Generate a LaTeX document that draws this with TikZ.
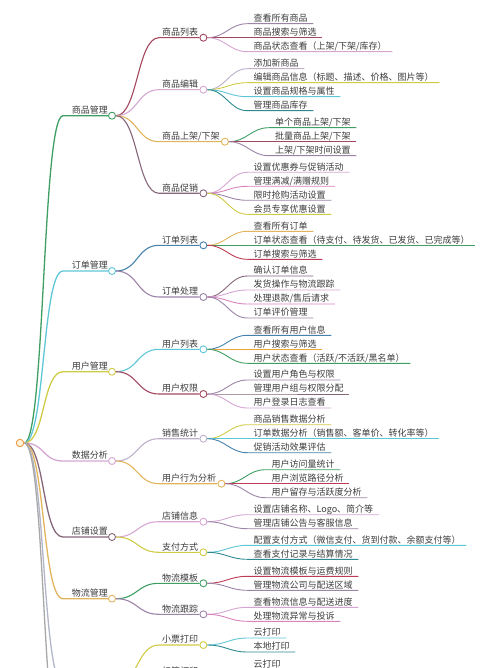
\documentclass[tikz,border=0pt]{standalone}
\usepackage{fontspec}
\setmainfont{Noto Sans CJK SC}
\usepackage{xcolor}
\definecolor{mmText}{HTML}{3C3C3C}
\definecolor{mmRootEdge}{HTML}{E89A48}
\definecolor{mmRootFill}{HTML}{FFF2D6}
\definecolor{mmGreen}{HTML}{3F9E63}
\definecolor{mmCyan}{HTML}{5EC6D7}
\definecolor{mmOlive}{HTML}{CFCB45}
\definecolor{mmLilac}{HTML}{D5A6D3}
\definecolor{mmMauve}{HTML}{86677A}
\definecolor{mmGold}{HTML}{E3B45E}
\definecolor{mmMaroon}{HTML}{A3475F}
\definecolor{mmPurple}{HTML}{9C84A8}
\definecolor{mmTeal}{HTML}{2E8A90}
\definecolor{mmSteel}{HTML}{4582AC}
\definecolor{mmOrange}{HTML}{EFA43A}
\definecolor{mmPink}{HTML}{D784BC}
\definecolor{mmRed}{HTML}{BE3A52}
\definecolor{mmHaze}{HTML}{BDB0C9}
\definecolor{mmGray}{HTML}{B3B6C8}
\definecolor{mmGrayB}{HTML}{A8A8A8}
\usepackage{tikz}
\usetikzlibrary{calc}

% level 1: name, y, colour, label
\newcommand{\mmmain}[4]{%
  \node[maintext] (#1l) at (108,#2-2.4) {#4};
  \node[mmdot=#3] (#1) at (112,#2) {};
  \coordinate (#1s) at (63,#2);
  \draw[mainline=#3] (root.east) .. controls +(21,0) and +(-21,0) .. (#1s) -- (#1.west);
}
% level 2: parent, name, y, colour, label
\newcommand{\mmbranch}[5]{%
  \node[branchtext] (#2l) at (162,#3-2.2) {#5};
  \node[mmdot=#4] (#2) at ($(#2l.base east)+(5,2.2)$) {};
  \coordinate (#2s) at (159,#3);
  \draw[branchline=#4] (#1.east) .. controls +(22,0) and +(-22,0) .. (#2s) -- (#2.west);
}
% level 3: parent, name, offset, colour, text
\newcommand{\mmleaf}[5]{%
  \node[leaftext] (#2) at ($(#1)+(50,#3-2.2)$) {#5};
  \coordinate (#2s) at ($(#1)+(44,#3)$);
  \draw[leafline=#4] (#1.east) .. controls +(18,0) and +(-18,0) .. (#2s)
    -- ($(#2.base east |- #2s)+(5.5,0)$);
}

\begin{document}
\begin{tikzpicture}[x=1pt, y=-1pt,
  mmdot/.style={circle, draw=#1, fill=white, line width=0.9pt, inner sep=0pt, minimum size=7pt},
  rootdot/.style={circle, draw=mmRootEdge, fill=mmRootFill, line width=0.9pt, inner sep=0pt, minimum size=7.5pt},
  mainline/.style={draw=#1, line width=1.3pt},
  branchline/.style={draw=#1, line width=1.1pt},
  leafline/.style={draw=#1, line width=0.9pt},
  maintext/.style={anchor=base east, inner sep=0pt, text=mmText, font=\fontsize{9pt}{10pt}\selectfont},
  branchtext/.style={anchor=base west, inner sep=0pt, text=mmText, font=\fontsize{9pt}{10pt}\selectfont},
  leaftext/.style={anchor=base west, inner sep=0pt, text=mmText, font=\fontsize{9pt}{10pt}\selectfont}]
  \useasboundingbox (0,0) rectangle (500,668);
  \clip (0,0) rectangle (500,668);

  \node[rootdot] (root) at (20,443) {};

  % Goods management
  \mmmain{goods}{115.7}{mmGreen}{商品管理}
  \mmbranch{goods}{glist}{37.7}{mmMaroon}{商品列表}
  \mmleaf{glist}{glistA}{-14}{mmPurple}{查看所有商品}
  \mmleaf{glist}{glistB}{0}{mmMaroon}{商品搜索与筛选}
  \mmleaf{glist}{glistC}{14}{mmLilac}{商品状态查看（上架/下架/库存）}
  \mmbranch{goods}{gedit}{89.7}{mmLilac}{商品编辑}
  \mmleaf{gedit}{geditA}{-21}{mmHaze}{添加新商品}
  \mmleaf{gedit}{geditB}{-7}{mmOlive}{编辑商品信息（标题、描述、价格、图片等）}
  \mmleaf{gedit}{geditC}{7}{mmCyan}{设置商品规格与属性}
  \mmleaf{gedit}{geditD}{21}{mmTeal}{管理商品库存}
  \mmbranch{goods}{gshelf}{141.7}{mmGold}{商品上架/下架}
  \mmleaf{gshelf}{gshelfA}{-14}{mmGreen}{单个商品上架/下架}
  \mmleaf{gshelf}{gshelfB}{0}{mmMaroon}{批量商品上架/下架}
  \mmleaf{gshelf}{gshelfC}{14}{mmPurple}{上架/下架时间设置}
  \mmbranch{goods}{gpromo}{193.3}{mmMauve}{商品促销}
  \mmleaf{gpromo}{gpromoA}{-21}{mmLilac}{设置优惠券与促销活动}
  \mmleaf{gpromo}{gpromoB}{-7}{mmPink}{管理满减/满赠规则}
  \mmleaf{gpromo}{gpromoC}{7}{mmPurple}{限时抢购活动设置}
  \mmleaf{gpromo}{gpromoD}{21}{mmOlive}{会员专享优惠设置}

  % Order management
  \mmmain{order}{271}{mmCyan}{订单管理}
  \mmbranch{order}{olist}{245.3}{mmSteel}{订单列表}
  \mmleaf{olist}{olistA}{-14}{mmGold}{查看所有订单}
  \mmleaf{olist}{olistB}{0}{mmGreen}{订单状态查看（待支付、待发货、已发货、已完成等）}
  \mmleaf{olist}{olistC}{14}{mmRed}{订单搜索与筛选}
  \mmbranch{order}{oproc}{297}{mmPurple}{订单处理}
  \mmleaf{oproc}{oprocA}{-21}{mmMauve}{确认订单信息}
  \mmleaf{oproc}{oprocB}{-7}{mmLilac}{发货操作与物流跟踪}
  \mmleaf{oproc}{oprocC}{7}{mmPink}{处理退款/售后请求}
  \mmleaf{oproc}{oprocD}{21}{mmPurple}{订单评价管理}

  % User management
  \mmmain{user}{371.7}{mmOlive}{用户管理}
  \mmbranch{user}{ulist}{349.3}{mmCyan}{用户列表}
  \mmleaf{ulist}{ulistA}{-14}{mmSteel}{查看所有用户信息}
  \mmleaf{ulist}{ulistB}{0}{mmOrange}{用户搜索与筛选}
  \mmleaf{ulist}{ulistC}{14}{mmGreen}{用户状态查看（活跃/不活跃/黑名单）}
  \mmbranch{user}{uperm}{394}{mmMaroon}{用户权限}
  \mmleaf{uperm}{upermA}{-14}{mmPurple}{设置用户角色与权限}
  \mmleaf{uperm}{upermB}{0}{mmMauve}{管理用户组与权限分配}
  \mmleaf{uperm}{upermC}{14}{mmLilac}{用户登录日志查看}

  % Data analysis
  \mmmain{data}{461}{mmLilac}{数据分析}
  \mmbranch{data}{dsale}{438.7}{mmHaze}{销售统计}
  \mmleaf{dsale}{dsaleA}{-14}{mmOlive}{商品销售数据分析}
  \mmleaf{dsale}{dsaleB}{0}{mmCyan}{订单数据分析（销售额、客单价、转化率等）}
  \mmleaf{dsale}{dsaleC}{14}{mmSteel}{促销活动效果评估}
  \mmbranch{data}{dbehav}{483.7}{mmGold}{用户行为分析}
  \mmleaf{dbehav}{dbehavA}{-14}{mmGreen}{用户访问量统计}
  \mmleaf{dbehav}{dbehavB}{0}{mmRed}{用户浏览路径分析}
  \mmleaf{dbehav}{dbehavC}{14}{mmPurple}{用户留存与活跃度分析}

  % Shop settings
  \mmmain{shop}{537}{mmMauve}{店铺设置}
  \mmbranch{shop}{sinfo}{521.7}{mmLilac}{店铺信息}
  \mmleaf{sinfo}{sinfoA}{-7}{mmLilac}{设置店铺名称、Logo、简介等}
  \mmleaf{sinfo}{sinfoB}{7}{mmPurple}{管理店铺公告与客服信息}
  \mmbranch{shop}{spay}{552.3}{mmOlive}{支付方式}
  \mmleaf{spay}{spayA}{-7}{mmCyan}{配置支付方式（微信支付、货到付款、余额支付等）}
  \mmleaf{spay}{spayB}{7}{mmTeal}{查看支付记录与结算情况}

  % Logistics
  \mmmain{logi}{598.7}{mmGold}{物流管理}
  \mmbranch{logi}{ltmpl}{583.3}{mmGreen}{物流模板}
  \mmleaf{ltmpl}{ltmplA}{-7}{mmRed}{设置物流模板与运费规则}
  \mmleaf{ltmpl}{ltmplB}{7}{mmPurple}{管理物流公司与配送区域}
  \mmbranch{logi}{ltrack}{614.3}{mmPurple}{物流跟踪}
  \mmleaf{ltrack}{ltrackA}{-7}{mmLilac}{查看物流信息与配送进度}
  \mmleaf{ltrack}{ltrackB}{7}{mmPink}{处理物流异常与投诉}

  % Printing (cut off below the frame)
  \node[mmdot=mmGray] (print) at (112,684) {};
  \coordinate (prints) at (63,684);
  \draw[mainline=mmGray] (root.east) .. controls +(21,0) and +(-21,0) .. (prints) -- (print.west);
  \coordinate (more) at (63,760);
  \draw[mainline=mmGrayB] (root.east) .. controls +(21,0) and +(-21,0) .. (more);
  \mmbranch{print}{pslip}{645}{mmOlive}{小票打印}
  \mmleaf{pslip}{pslipA}{-7}{mmCyan}{云打印}
  \mmleaf{pslip}{pslipB}{7}{mmTeal}{本地打印}
  \mmbranch{print}{plabel}{676.5}{mmGold}{标签打印}
  \mmleaf{plabel}{plabelA}{-7}{mmCyan}{云打印}
\end{tikzpicture}
\end{document}
